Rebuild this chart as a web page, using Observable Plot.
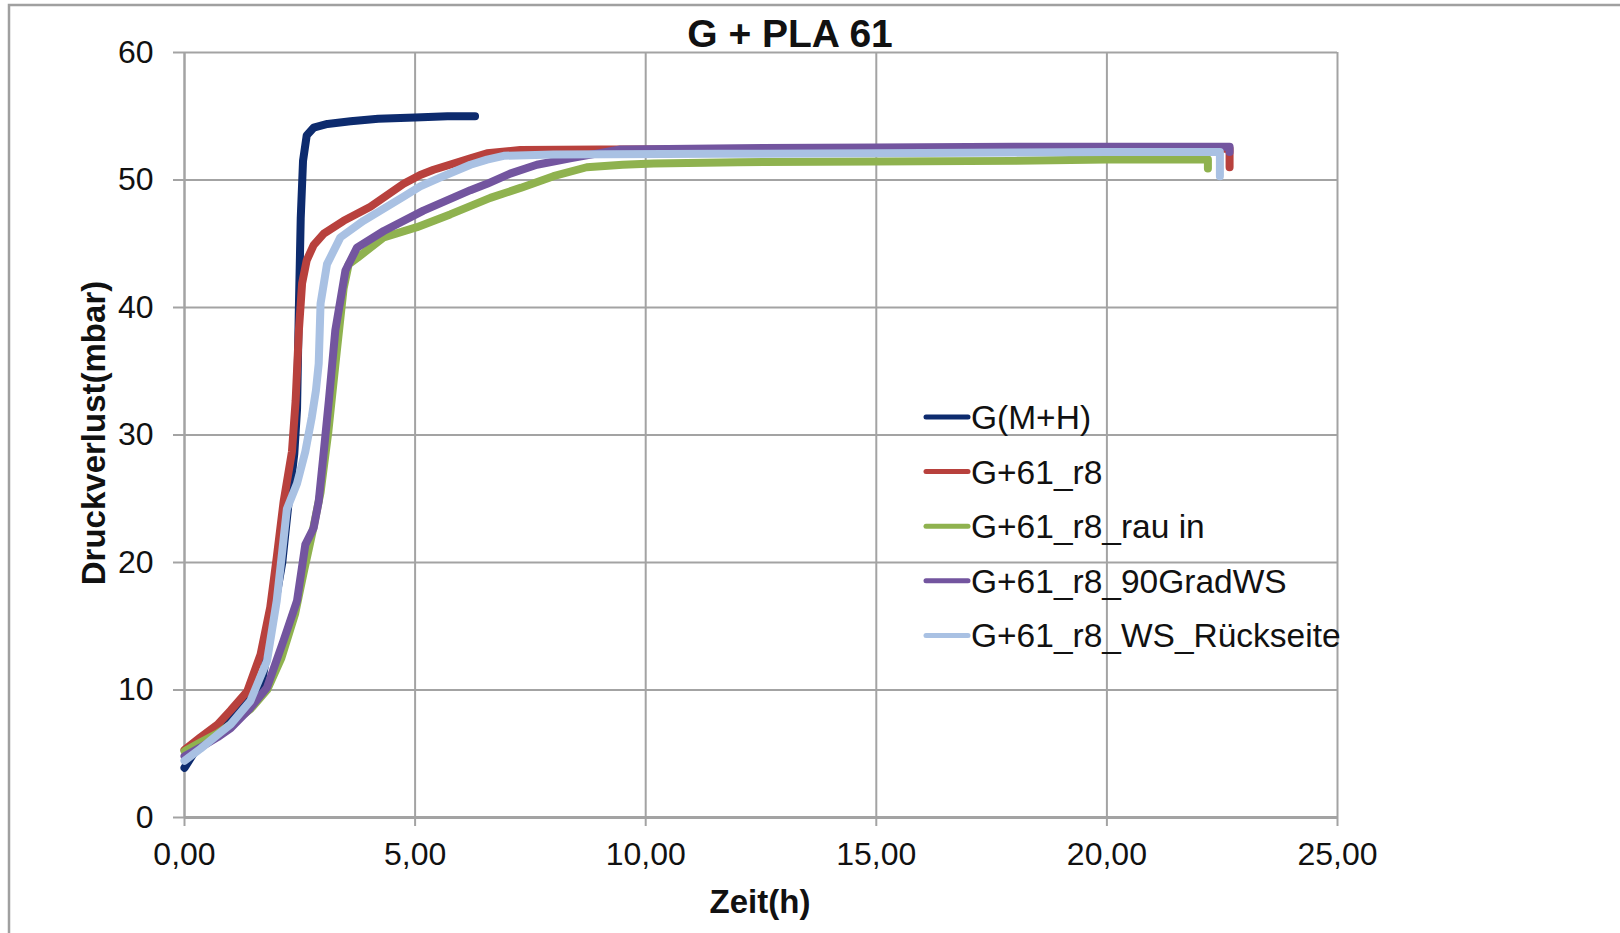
<!DOCTYPE html>
<html>
<head>
<meta charset="utf-8">
<script src="https://cdn.jsdelivr.net/npm/d3@7"></script>
<script src="https://cdn.jsdelivr.net/npm/@observablehq/plot@0.6"></script>
<style>
  html, body { margin: 0; padding: 0; background: #fff; }
  #chart { width: 1620px; height: 933px; overflow: hidden; }
</style>
</head>
<body>
<div id="chart"></div>
<script>
// ---- Data ----
const chartTitle = "G + PLA 61";
const xLabel = "Zeit(h)";
const yLabel = "Druckverlust(mbar)";

const seriesNames = ["G(M+H)", "G+61_r8", "G+61_r8_rau in", "G+61_r8_90GradWS", "G+61_r8_WS_Rückseite"];
const seriesColors = ["#0d2b6e", "#b8413d", "#8fb24f", "#73559f", "#a9c1e3"];

const xTicks = [0, 5, 10, 15, 20, 25];
const yTicks = [0, 10, 20, 30, 40, 50, 60];

// G(M+H)
const tNavy = [0, 0.3, 0.7, 1.0, 1.3, 1.65, 1.86, 2.0, 2.12, 2.26, 2.38, 2.44, 2.48, 2.52, 2.57, 2.65, 2.8, 3.1, 3.6, 4.2, 5.0, 5.7, 6.3];
const vNavy = [3.9, 5.6, 7.0, 8.0, 9.0, 10.0, 14.4, 17.5, 20.0, 24.8, 28.5, 32.0, 40.0, 47.0, 51.5, 53.5, 54.1, 54.4, 54.6, 54.8, 54.9, 55.0, 55.0];

// G+61_r8
const tRed = [0, 0.35, 0.72, 1.0, 1.36, 1.65, 1.86, 2.0, 2.15, 2.33, 2.41, 2.48, 2.55, 2.65, 2.8, 3.02, 3.45, 4.03, 4.75, 5.11, 5.4, 6.2, 6.56, 7.28, 9, 12, 15, 18, 20, 22.66, 22.66];
const vRed = [5.3, 6.3, 7.3, 8.4, 9.9, 12.8, 16.5, 20.4, 24.8, 28.7, 32.7, 38.2, 41.9, 43.7, 44.9, 45.8, 46.8, 47.9, 49.7, 50.4, 50.8, 51.7, 52.1, 52.35, 52.4, 52.4, 52.45, 52.45, 52.45, 52.45, 51.0];

// G+61_r8_rau in
const tGreen = [0, 0.35, 0.72, 1.0, 1.43, 1.79, 2.1, 2.4, 2.6, 2.77, 2.95, 3.12, 3.3, 3.45, 3.56, 3.75, 4.32, 5.04, 5.76, 6.63, 7.3, 8.0, 8.72, 9.5, 10.17, 12, 15, 18, 20, 22.19, 22.19];
const vGreen = [5.2, 5.9, 6.6, 7.3, 8.5, 10.0, 12.5, 16.0, 19.5, 22.3, 25.5, 30.3, 36.5, 41.5, 43.4, 43.9, 45.5, 46.3, 47.3, 48.6, 49.4, 50.3, 51.0, 51.2, 51.3, 51.4, 51.45, 51.5, 51.6, 51.6, 50.9];

// G+61_r8_90GradWS
const tPurple = [0, 0.35, 0.72, 1.0, 1.43, 1.79, 2.15, 2.44, 2.62, 2.8, 2.91, 3.02, 3.13, 3.27, 3.49, 3.74, 4.32, 5.18, 6.2, 6.56, 7.06, 7.64, 8.36, 9.45, 12, 15, 18, 20, 22.66, 22.66];
const vPurple = [4.8, 5.5, 6.3, 7.0, 8.6, 10.2, 13.9, 17.0, 21.4, 22.7, 24.8, 28.7, 32.7, 38.2, 42.9, 44.7, 46.0, 47.6, 49.2, 49.7, 50.5, 51.2, 51.7, 52.4, 52.5, 52.55, 52.6, 52.6, 52.6, 52.2];

// G+61_r8_WS_Rückseite
const tLight = [0, 0.35, 0.72, 1.0, 1.43, 1.79, 2.0, 2.12, 2.22, 2.44, 2.62, 2.76, 2.85, 2.91, 2.95, 3.09, 3.38, 3.88, 4.75, 5.11, 5.55, 6.2, 6.56, 6.92, 8.0, 11.6, 15, 18, 20, 22.45, 22.45];
const vLight = [4.45, 5.4, 6.5, 7.3, 9.15, 12.3, 17.0, 20.9, 24.2, 26.2, 28.7, 31.4, 33.5, 35.6, 40.3, 43.4, 45.5, 46.8, 48.7, 49.5, 50.2, 51.2, 51.6, 51.9, 52.0, 52.05, 52.1, 52.15, 52.2, 52.2, 50.3];

// ---- Build a long table for Plot ----
const seriesT = [tNavy, tRed, tGreen, tPurple, tLight];
const seriesV = [vNavy, vRed, vGreen, vPurple, vLight];
const rows = [];
seriesNames.forEach((name, i) => {
  seriesT[i].forEach((t, j) => rows.push({name, t, v: seriesV[i][j]}));
});

const gridColor = "#a3a3a3";
const fontFamily = "'Liberation Sans', Arial, sans-serif";

const chart = Plot.plot({
  width: 1620,
  height: 933,
  marginLeft: 184,
  marginRight: 283,
  marginTop: 52,
  marginBottom: 116,
  style: {fontFamily, background: "#fff", color: "#111"},
  x: {domain: [0, 25]},
  y: {domain: [0, 60]},
  color: {domain: seriesNames, range: seriesColors},
  marks: [
    Plot.gridX(xTicks, {stroke: gridColor, strokeOpacity: 1, strokeWidth: 2}),
    Plot.gridY(yTicks, {stroke: gridColor, strokeOpacity: 1, strokeWidth: 2}),
    Plot.axisX(xTicks, {
      tickFormat: d => d.toFixed(2).replace(".", ","),
      tickSize: 9, tickPadding: 16, fontSize: 32,
      stroke: gridColor, strokeWidth: 2, fill: "#111", label: null
    }),
    Plot.axisY(yTicks, {
      tickSize: 11, tickPadding: 20, fontSize: 32,
      stroke: gridColor, strokeWidth: 2, fill: "#111", label: null
    }),
    Plot.ruleY([0], {stroke: gridColor, strokeWidth: 3}),
    Plot.ruleX([0], {stroke: gridColor, strokeWidth: 2}),
    Plot.line(rows, {
      x: "t", y: "v", z: "name", stroke: "name",
      strokeWidth: 8, strokeLinejoin: "round", strokeLinecap: "round"
    })
  ]
});

const svg = d3.select(chart);

// outer chart border (cropped at right and bottom)
svg.append("path")
  .attr("d", "M9,945V5H1630")
  .attr("fill", "none")
  .attr("stroke", "#a0a0a0")
  .attr("stroke-width", 2.5);

// title
svg.append("text")
  .attr("x", 790).attr("y", 47)
  .attr("text-anchor", "middle")
  .attr("font-family", fontFamily)
  .attr("font-size", 39).attr("font-weight", "bold")
  .attr("fill", "#111")
  .text(chartTitle);

// x axis label
svg.append("text")
  .attr("x", 760).attr("y", 913)
  .attr("text-anchor", "middle")
  .attr("font-family", fontFamily)
  .attr("font-size", 33).attr("font-weight", "bold")
  .attr("fill", "#111")
  .text(xLabel);

// y axis label
svg.append("text")
  .attr("transform", "translate(105,433) rotate(-90)")
  .attr("text-anchor", "middle")
  .attr("font-family", fontFamily)
  .attr("font-size", 33).attr("font-weight", "bold")
  .attr("fill", "#111")
  .text(yLabel);

// legend
const lg = svg.append("g").attr("text-anchor", "start");
seriesNames.forEach((name, i) => {
  const cy = 417 + i * 54.6;
  lg.append("line")
    .attr("x1", 926).attr("x2", 968)
    .attr("y1", cy).attr("y2", cy)
    .attr("stroke", seriesColors[i])
    .attr("stroke-width", 5)
    .attr("stroke-linecap", "round");
  lg.append("text")
    .attr("x", 971).attr("y", cy + 12)
    .attr("text-anchor", "start")
    .attr("font-family", fontFamily)
    .attr("font-size", 33.5)
    .attr("fill", "#111")
    .text(name);
});

document.getElementById("chart").appendChild(chart);
</script>
</body>
</html>
